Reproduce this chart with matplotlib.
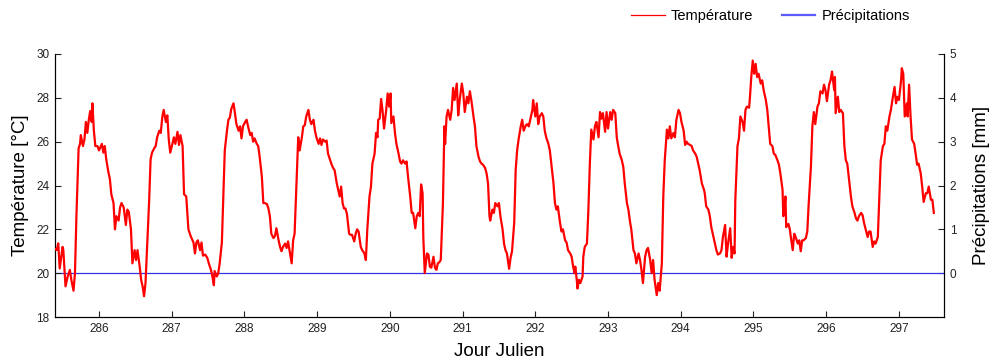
# Temperature / precipitation time series, Julian days 285-297

import matplotlib
matplotlib.use('Agg')
import matplotlib.pyplot as plt
from matplotlib.lines import Line2D

# ----------------------------------------------------------------------------
#  DATA
# ----------------------------------------------------------------------------
day = [285.40, 285.42, 285.44, 285.46, 285.50, 285.51, 285.54, 285.57, 285.60, 285.62,
       285.65, 285.67, 285.69, 285.72, 285.74, 285.75, 285.78, 285.80, 285.82, 285.84,
       285.86, 285.88, 285.90, 285.91, 285.93, 285.95, 285.98, 286.00, 286.04, 286.06,
       286.08, 286.10, 286.13, 286.15, 286.17, 286.20, 286.22, 286.24, 286.27, 286.29,
       286.31, 286.34, 286.37, 286.39, 286.41, 286.44, 286.46, 286.49, 286.51, 286.53,
       286.56, 286.58, 286.60, 286.62, 286.64, 286.66, 286.69, 286.71, 286.73, 286.76,
       286.78, 286.80, 286.83, 286.85, 286.87, 286.89, 286.92, 286.94, 286.96, 286.98,
       287.01, 287.03, 287.05, 287.08, 287.10, 287.12, 287.15, 287.17,
       287.20, 287.23, 287.26, 287.30, 287.32, 287.34, 287.36, 287.39, 287.41, 287.43,
       287.46, 287.49, 287.51, 287.54, 287.56, 287.58, 287.59, 287.62, 287.64, 287.66,
       287.69, 287.71, 287.73, 287.76, 287.78, 287.80, 287.82, 287.85, 287.87, 287.89,
       287.92, 287.94, 287.96, 287.98, 288.01, 288.03, 288.05, 288.08, 288.10, 288.12,
       288.14, 288.17, 288.19, 288.21, 288.24, 288.26, 288.28, 288.31, 288.33, 288.35,
       288.37, 288.40, 288.42, 288.44, 288.47, 288.49, 288.51, 288.53, 288.56, 288.58,
       288.60, 288.63, 288.65, 288.67, 288.69, 288.72, 288.74, 288.76, 288.79, 288.81,
       288.83, 288.85, 288.88, 288.90, 288.92, 288.95, 288.97,
       288.99, 289.02, 289.04, 289.06, 289.08, 289.11, 289.13, 289.15, 289.18, 289.20,
       289.22, 289.24, 289.27, 289.29, 289.31, 289.33, 289.35, 289.37, 289.39, 289.41,
       289.44, 289.46, 289.48, 289.51, 289.53, 289.55, 289.57, 289.60, 289.62, 289.65,
       289.67, 289.69, 289.72, 289.74, 289.76, 289.79, 289.81, 289.83, 289.84, 289.86,
       289.88, 289.90, 289.92, 289.95, 289.97, 289.99, 290.01, 290.02, 290.05, 290.07,
       290.09, 290.12, 290.14, 290.16, 290.18, 290.21, 290.23, 290.25, 290.28, 290.30,
       290.32, 290.35, 290.37, 290.39, 290.41, 290.43, 290.45, 290.46, 290.48, 290.51,
       290.53, 290.55, 290.57, 290.60, 290.62, 290.64, 290.66, 290.68, 290.70, 290.73,
       290.75, 290.76, 290.78, 290.80, 290.83, 290.85, 290.87, 290.89, 290.92, 290.94,
       290.96, 290.99, 291.01, 291.03, 291.06, 291.08, 291.10, 291.12, 291.15, 291.17,
       291.19, 291.22, 291.24, 291.26, 291.28, 291.31, 291.33, 291.35, 291.37, 291.38,
       291.41, 291.43, 291.45, 291.48, 291.50, 291.52, 291.55, 291.57, 291.59, 291.61,
       291.64, 291.66, 291.68, 291.71, 291.73, 291.75, 291.77, 291.80, 291.82, 291.84,
       291.87, 291.89, 291.91, 291.93, 291.96, 291.97, 292.00, 292.02, 292.04, 292.06,
       292.09, 292.11, 292.13, 292.15, 292.18, 292.20, 292.22, 292.25, 292.27, 292.29,
       292.31, 292.34, 292.36, 292.38, 292.41, 292.43, 292.45, 292.48, 292.50, 292.52,
       292.54, 292.55, 292.57, 292.58, 292.60, 292.62, 292.65, 292.66, 292.68, 292.71,
       292.73, 292.75, 292.77, 292.80, 292.82, 292.84, 292.87, 292.89, 292.91, 292.93,
       292.96, 292.98, 293.00, 293.03, 293.05, 293.07, 293.10, 293.12, 293.14, 293.16,
       293.19, 293.21, 293.23, 293.26, 293.28, 293.30, 293.32, 293.35, 293.37, 293.39,
       293.42, 293.44, 293.46, 293.48, 293.51, 293.53, 293.55, 293.58, 293.60, 293.62,
       293.64, 293.67, 293.69, 293.71, 293.74, 293.76, 293.78, 293.81, 293.83, 293.85,
       293.87, 293.90, 293.92, 293.94, 293.97, 293.99, 294.01, 294.04, 294.06, 294.08,
       294.10, 294.13, 294.15, 294.17, 294.20, 294.22, 294.24, 294.26, 294.29, 294.32,
       294.33, 294.35, 294.38, 294.40, 294.42, 294.45, 294.47, 294.49, 294.51, 294.54,
       294.56, 294.58, 294.61, 294.63, 294.65, 294.68, 294.70, 294.72, 294.74, 294.75,
       294.78, 294.80, 294.82, 294.85, 294.87, 294.89, 294.91, 294.94, 294.95, 294.97,
       294.99, 295.01, 295.03, 295.05, 295.07, 295.10, 295.12, 295.14, 295.17, 295.19,
       295.21, 295.23, 295.26, 295.28, 295.30, 295.33, 295.35, 295.37, 295.40, 295.41,
       295.42, 295.44, 295.45, 295.48, 295.50, 295.52, 295.54, 295.56, 295.58, 295.61,
       295.63, 295.65, 295.67, 295.69, 295.72, 295.74, 295.76, 295.79, 295.81, 295.83,
       295.85, 295.88, 295.90, 295.92, 295.95, 295.97, 295.99, 296.01, 296.04, 296.06,
       296.08, 296.11, 296.12, 296.13, 296.16, 296.18, 296.20, 296.23, 296.25, 296.27,
       296.29, 296.32, 296.34, 296.36, 296.39, 296.41, 296.43, 296.45, 296.48, 296.50,
       296.52, 296.55, 296.57, 296.59, 296.61, 296.64, 296.66, 296.68, 296.71, 296.73,
       296.75, 296.78, 296.80, 296.82, 296.84, 296.87, 296.89, 296.91, 296.94, 296.96,
       296.98, 297.00, 297.03, 297.04, 297.06, 297.08, 297.11, 297.12, 297.14, 297.16,
       297.18, 297.21, 297.23, 297.25, 297.27, 297.30, 297.32, 297.34, 297.37, 297.39,
       297.41, 297.44, 297.46, 297.48]

temperature = [21.10, 21.06, 21.36, 20.22, 21.20, 21.05, 19.40, 19.85, 20.15, 19.70,
               19.20, 20.00, 22.60, 25.70, 25.90, 26.30, 25.80, 26.10, 26.90, 26.40,
               27.00, 27.40, 26.90, 27.75, 26.50, 25.80, 25.80, 25.60, 25.90, 25.50,
               25.80, 25.20, 24.60, 24.30, 23.60, 23.20, 22.00, 22.60, 22.40, 23.00,
               23.20, 23.00, 22.20, 22.90, 22.80, 22.00, 20.45, 21.05, 20.60, 21.05,
               20.30, 19.70, 19.40, 18.95, 19.55, 21.05, 23.30, 25.20, 25.50, 25.70,
               25.80, 26.20, 26.50, 26.40, 27.10, 27.45, 26.90, 27.20, 26.10, 25.50,
               25.90, 26.20, 25.90, 26.45, 25.85, 26.30, 25.80, 23.60,
               23.50, 22.00, 21.70, 21.40, 20.90, 21.40, 21.50, 21.05, 21.40, 20.80,
               20.85, 20.70, 20.45, 20.15, 19.85, 19.45, 20.10, 19.85, 20.00, 20.45,
               21.40, 23.50, 25.60, 26.50, 27.00, 27.10, 27.50, 27.75, 27.30, 26.80,
               26.50, 26.70, 26.15, 26.70, 26.90, 27.00, 26.70, 26.30, 26.40, 26.00,
               26.15, 25.90, 25.80, 25.30, 24.40, 23.20, 23.20, 23.15, 22.95, 22.60,
               21.80, 21.60, 21.70, 22.05, 21.50, 21.20, 21.00, 21.20, 21.35, 21.15,
               21.45, 20.85, 20.45, 21.50, 21.80, 24.40, 26.20, 25.60, 26.20, 26.70,
               26.75, 27.15, 27.45, 27.00, 26.80, 27.00, 26.50,
               26.20, 25.90, 26.15, 25.85, 26.10, 26.00, 26.05, 25.45, 25.15, 24.95,
               24.80, 24.70, 24.10, 23.80, 23.50, 23.95, 23.20, 22.95, 22.95, 22.70,
               21.80, 21.75, 21.75, 21.45, 21.80, 22.00, 21.90, 21.20, 21.05, 20.90,
               20.60, 22.00, 23.50, 23.95, 25.00, 25.45, 26.40, 26.20, 27.00, 27.05,
               27.95, 27.40, 26.60, 27.45, 28.20, 27.60, 28.20, 26.85, 27.15, 26.40,
               25.90, 25.45, 25.10, 25.00, 25.15, 25.00, 25.10, 24.40, 23.50, 22.75,
               22.75, 22.05, 22.60, 22.75, 22.60, 24.05, 23.65, 21.65, 20.00, 20.90,
               20.85, 20.30, 20.25, 20.75, 20.25, 20.15, 20.45, 20.50, 20.60, 23.20,
               26.70, 25.90, 27.15, 27.45, 27.00, 27.45, 28.45, 27.90, 28.65, 27.20,
               27.90, 28.65, 28.20, 27.35, 28.05, 27.75, 28.30, 27.90, 27.15, 26.70,
               25.80, 25.30, 25.10, 25.00, 24.95, 24.80, 24.55, 24.10, 22.60, 22.40,
               22.90, 22.75, 23.20, 23.05, 23.20, 22.60, 22.00, 21.35, 21.05, 20.90,
               20.20, 20.70, 21.00, 22.30, 24.70, 25.60, 26.10, 26.70, 27.00, 26.50,
               26.75, 26.80, 26.70, 27.00, 27.45, 27.90, 27.15, 27.75, 26.80, 27.15,
               27.30, 27.15, 26.50, 26.20, 25.90, 25.60, 25.00, 24.10, 23.20, 22.90,
               23.05, 22.30, 21.90, 22.00, 21.50, 21.40, 21.05, 20.90, 20.75, 20.30,
               20.00, 20.30, 19.70, 19.30, 19.70, 19.55, 19.85, 20.75, 21.20, 21.35,
               22.90, 25.00, 26.55, 26.10, 26.70, 26.90, 26.20, 27.35, 27.05, 27.30,
               26.45, 27.35, 26.60, 27.35, 27.00, 27.45, 27.30, 26.20, 25.80, 25.45,
               25.15, 24.85, 24.10, 23.20, 22.90, 22.40, 22.00, 21.05, 20.90, 20.45,
               20.90, 20.60, 20.15, 19.55, 20.75, 21.05, 21.15, 20.60, 20.00, 20.60,
               19.70, 19.00, 19.55, 19.20, 20.45, 23.50, 25.15, 26.55, 26.15, 26.70,
               26.15, 26.40, 26.20, 27.00, 27.45, 27.30, 26.90, 26.50, 25.85, 26.00,
               25.90, 25.85, 25.80, 25.60, 25.45, 25.30, 25.00, 24.70, 24.10, 23.80,
               23.65, 23.05, 22.90, 22.60, 22.10, 21.65, 21.35, 21.05, 20.85, 20.90,
               21.05, 21.65, 22.20, 20.75, 21.35, 22.05, 20.70, 21.20, 20.90, 23.30,
               25.80, 26.15, 27.15, 26.90, 26.50, 27.45, 27.60, 27.55, 27.95, 28.95,
               29.70, 29.10, 29.55, 28.95, 29.10, 28.65, 28.80, 28.35, 27.90, 27.45,
               26.70, 25.90, 25.80, 25.45, 25.40, 25.15, 24.95, 24.55, 23.80, 22.60,
               22.75, 23.50, 22.10, 22.25, 22.00, 21.50, 21.05, 21.80, 21.65, 21.35,
               21.50, 21.00, 21.50, 21.50, 21.60, 21.90, 23.20, 24.85, 26.70, 27.35,
               26.80, 27.60, 27.75, 28.30, 28.20, 28.60, 28.35, 27.85, 28.60, 28.80,
               29.20, 28.35, 28.95, 27.30, 28.05, 27.35, 27.45, 27.30, 25.80, 25.15,
               25.00, 24.10, 23.50, 23.05, 22.75, 22.50, 22.40, 22.60, 22.75, 22.65,
               22.30, 21.90, 21.65, 21.90, 21.90, 21.20, 21.45, 21.35, 21.65, 23.35,
               25.15, 25.80, 25.90, 26.70, 26.50, 27.15, 27.45, 27.90, 28.50, 27.75,
               28.05, 27.90, 28.80, 29.35, 29.10, 27.15, 27.75, 27.15, 28.60, 27.15,
               26.10, 25.90, 25.45, 24.95, 25.00, 24.55, 23.95, 23.25, 23.65, 23.65,
               23.95, 23.35, 23.35, 22.75]

precip_day = [285.0, 298.0]
precipitation = [0.0, 0.0]

temp_ticks = [18, 20, 22, 24, 26, 28, 30]
precip_ticks = [0, 1, 2, 3, 4, 5]
day_ticks = list(range(286, 298))

# ----------------------------------------------------------------------------
#  PLOT
# ----------------------------------------------------------------------------
plt.rcParams['font.family'] = ['Liberation Sans', 'DejaVu Sans']

fig = plt.figure(figsize=(9.94, 3.6), dpi=100)
axis_1 = fig.add_axes([0.0553, 0.1194, 0.8944, 0.7306])
axis_2 = axis_1.twinx()

axis_1.plot(day, temperature, color='#ff0000', linewidth=1.6, zorder=3)
axis_2.plot(precip_day, precipitation, color='#3232e6', linewidth=0.9, zorder=2)

# keep the temperature line on top of the twin axis
axis_1.set_zorder(axis_2.get_zorder() + 1)
axis_1.patch.set_visible(False)

axis_1.set_xlim(285.395, 297.62)
axis_1.set_ylim(18, 30)
axis_2.set_ylim(-1, 5)
axis_1.set_xticks(day_ticks)
axis_1.set_yticks(temp_ticks)
axis_2.set_yticks(precip_ticks)

for ax in (axis_1, axis_2):
    ax.spines['top'].set_visible(False)
    ax.tick_params(direction='in', length=4, width=0.8, labelsize=8.5, colors='#222222')
axis_1.tick_params(axis='x', pad=4)
axis_1.tick_params(axis='y', pad=4)
axis_2.tick_params(axis='y', pad=4)

axis_1.set_ylabel('Température [°C]', fontsize=13.5, labelpad=5)
axis_2.set_ylabel('Précipitations [mm]', fontsize=13.5, labelpad=12)
axis_1.set_xlabel('Jour Julien', fontsize=13.5, labelpad=6)

handles = [Line2D([], [], color='#ff0000', linewidth=0.9),
           Line2D([], [], color='#5a5aff', linewidth=1.6)]
fig.legend(handles, ['Température', 'Précipitations'], loc='center',
           bbox_to_anchor=(0.775, 0.955), ncol=2, frameon=False, fontsize=10.5,
           handlelength=2.3, handletextpad=0.4, columnspacing=2.0)

fig.savefig('out.png', dpi=100)
